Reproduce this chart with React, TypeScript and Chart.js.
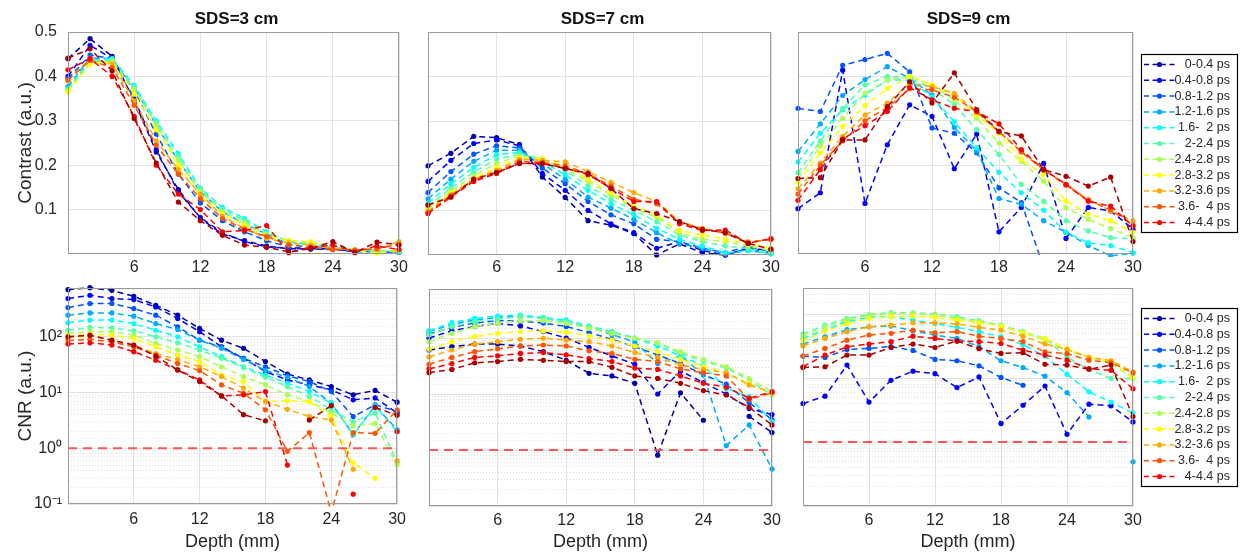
import React, { useEffect, useRef } from 'react';
import { Chart, registerables } from 'chart.js';

Chart.register(...registerables);

const N = null;

const DEPTH_MM = [0, 2, 4, 6, 8, 10, 12, 14, 16, 18, 20, 22, 24, 26, 28, 30];
const GATE_LABELS = ['0-0.4 ps', '0.4-0.8 ps', '0.8-1.2 ps', '1.2-1.6 ps', '1.6-  2 ps', '2-2.4 ps', '2.4-2.8 ps', '2.8-3.2 ps', '3.2-3.6 ps', '3.6-  4 ps', '4-4.4 ps', '4.4-4.8 ps'];
const GATE_COLORS = ['#0000aa', '#0000ff', '#0055ff', '#00aaff', '#00ffff', '#55ffaa', '#aaff55', '#ffff00', '#ffaa00', '#ff5500', '#ff0000', '#aa0000'];
const LEGEND_COUNT = 11;
const DEPTH_TICKS = [6, 12, 18, 24, 30];
const CONTRAST_TICKS = [0.1, 0.2, 0.3, 0.4, 0.5];
const PANEL_TITLES = ['SDS=3 cm', 'SDS=7 cm', 'SDS=9 cm'];
const THRESHOLD_DEPTHS = [0, 30];
const CNR_THRESHOLD = [1, 1];

// Contrast, SDS = 3 cm (rows: time gates, columns: DEPTH_MM)
const CONTRAST_SDS3: (number | null)[][] = [
  [0.44, 0.485, 0.445, 0.345, 0.23, 0.145, 0.08, 0.045, 0.03, 0.018, 0.012, 0.012, 0.012, 0.005, 0.008, 0.005],
  [0.40, 0.47, 0.44, 0.35, 0.235, 0.14, 0.082, 0.048, 0.028, 0.016, 0.013, 0.011, 0.01, 0.006, 0.005, 0.004],
  [0.395, 0.448, 0.44, 0.368, 0.27, 0.18, 0.115, 0.075, 0.05, 0.03, 0.016, 0.012, 0.012, 0.005, 0.006, 0.005],
  [0.377, 0.442, 0.44, 0.375, 0.29, 0.21, 0.14, 0.095, 0.068, 0.045, 0.022, 0.016, 0.015, 0.007, 0.006, 0.004],
  [0.372, 0.437, 0.44, 0.38, 0.30, 0.226, 0.148, 0.105, 0.08, 0.05, 0.028, 0.02, 0.018, 0.008, 0.007, 0.005],
  [0.37, 0.433, 0.437, 0.376, 0.296, 0.22, 0.145, 0.1, 0.075, 0.047, 0.03, 0.022, 0.02, 0.01, 0.008, 0.006],
  [0.368, 0.43, 0.434, 0.37, 0.29, 0.21, 0.14, 0.095, 0.07, 0.045, 0.03, 0.025, 0.02, 0.01, 0.005, 0.008],
  [0.365, 0.428, 0.43, 0.36, 0.28, 0.2, 0.13, 0.09, 0.065, 0.04, 0.03, 0.028, 0.016, 0.008, 0.002, 0.01],
  [0.39, 0.44, 0.428, 0.345, 0.255, 0.19, 0.135, 0.085, 0.058, 0.035, 0.025, 0.02, 0.012, 0.01, 0.01, 0.028],
  [0.392, 0.436, 0.42, 0.335, 0.245, 0.18, 0.125, 0.08, 0.055, 0.04, 0.02, 0.015, 0.01, 0.008, 0.012, 0.022],
  [0.415, 0.44, 0.40, 0.31, 0.2, 0.135, 0.1, 0.05, 0.053, 0.064, 0.003, 0.015, 0.02, 0.005, 0.018, 0.01],
  [0.441, 0.462, 0.412, 0.305, 0.205, 0.117, 0.075, 0.042, 0.02, 0.015, 0.005, 0.012, 0.028, 0.003, 0.027, 0.02],
];

// Contrast, SDS = 7 cm
const CONTRAST_SDS7: (number | null)[][] = [
  [0.20, 0.228, 0.266, 0.263, 0.248, 0.175, 0.129, 0.077, 0.067, 0.048, 0.0, 0.025, 0.005, 0.0, 0.015, 0.01],
  [0.165, 0.212, 0.25, 0.258, 0.245, 0.183, 0.145, 0.1, 0.07, 0.05, 0.015, 0.03, 0.01, 0.0, 0.015, 0.005],
  [0.14, 0.187, 0.226, 0.245, 0.24, 0.195, 0.16, 0.12, 0.09, 0.07, 0.035, 0.03, 0.015, 0.005, 0.02, 0.005],
  [0.126, 0.17, 0.21, 0.235, 0.235, 0.205, 0.17, 0.13, 0.105, 0.08, 0.05, 0.025, 0.015, 0.002, 0.01, 0.003],
  [0.116, 0.16, 0.196, 0.225, 0.23, 0.21, 0.18, 0.145, 0.115, 0.09, 0.06, 0.035, 0.02, 0.005, 0.01, 0.003],
  [0.11, 0.15, 0.186, 0.215, 0.226, 0.215, 0.19, 0.155, 0.125, 0.1, 0.075, 0.045, 0.03, 0.02, 0.015, 0.005],
  [0.105, 0.143, 0.178, 0.205, 0.222, 0.216, 0.195, 0.165, 0.135, 0.105, 0.085, 0.05, 0.035, 0.03, 0.02, 0.01],
  [0.1, 0.138, 0.172, 0.196, 0.218, 0.215, 0.2, 0.17, 0.14, 0.11, 0.09, 0.055, 0.045, 0.035, 0.025, 0.015],
  [0.098, 0.135, 0.17, 0.19, 0.215, 0.212, 0.209, 0.187, 0.163, 0.14, 0.12, 0.075, 0.06, 0.048, 0.03, 0.035],
  [0.095, 0.133, 0.168, 0.186, 0.21, 0.208, 0.2, 0.182, 0.155, 0.125, 0.115, 0.072, 0.058, 0.05, 0.028, 0.035],
  [0.093, 0.13, 0.165, 0.183, 0.206, 0.205, 0.195, 0.18, 0.15, 0.12, 0.12, 0.07, 0.055, 0.056, 0.026, 0.037],
  [0.112, 0.13, 0.17, 0.185, 0.205, 0.205, 0.194, 0.183, 0.149, 0.104, 0.093, 0.075, 0.057, 0.05, 0.026, 0.013],
];

// Contrast, SDS = 9 cm
const CONTRAST_SDS9: (number | null)[][] = [
  [N, N, N, N, N, N, N, N, N, N, N, N, N, N, N, N],
  [0.102, 0.138, 0.414, 0.114, 0.246, 0.336, 0.31, 0.192, 0.27, 0.05, 0.105, 0.204, 0.035, 0.105, 0.097, 0.056],
  [0.328, 0.321, 0.425, 0.438, 0.452, 0.41, 0.284, 0.272, 0.228, 0.149, 0.116, -0.03, N, N, N, N],
  [0.231, 0.293, 0.357, 0.393, 0.422, 0.396, 0.358, 0.285, 0.232, 0.125, 0.112, 0.075, 0.049, 0.019, -0.004, 0.002],
  [0.207, 0.272, 0.325, 0.358, 0.392, 0.392, 0.354, 0.298, 0.239, 0.184, 0.138, 0.099, 0.049, 0.025, 0.019, 0.003],
  [0.183, 0.254, 0.328, 0.381, 0.40, 0.396, 0.373, 0.336, 0.28, 0.224, 0.157, 0.119, 0.075, 0.052, 0.037, 0.034],
  [0.17, 0.243, 0.306, 0.362, 0.392, 0.40, 0.381, 0.347, 0.306, 0.25, 0.209, 0.164, 0.104, 0.078, 0.057, 0.037],
  [0.162, 0.228, 0.287, 0.334, 0.373, 0.40, 0.381, 0.358, 0.313, 0.272, 0.213, 0.179, 0.119, 0.09, 0.075, 0.049],
  [0.147, 0.205, 0.265, 0.313, 0.34, 0.384, 0.377, 0.362, 0.321, 0.276, 0.231, 0.19, 0.157, 0.123, 0.097, 0.075],
  [0.135, 0.2, 0.255, 0.3, 0.33, 0.372, 0.37, 0.353, 0.32, 0.275, 0.23, 0.19, 0.155, 0.12, 0.1, 0.065],
  [0.121, 0.19, 0.259, 0.289, 0.321, 0.375, 0.347, 0.328, 0.321, 0.293, 0.235, 0.19, 0.157, 0.119, 0.108, 0.063],
  [0.17, 0.172, 0.257, 0.257, 0.332, 0.388, 0.34, 0.408, 0.325, 0.276, 0.266, 0.19, 0.175, 0.153, 0.173, 0.028],
];

// CNR, SDS = 3 cm
const CNR_SDS3: (number | null)[][] = [
  [700, 760, 680, 532, 367, 244, 141, 87, 62, 36, 21.5, 16.8, 12.8, 9.1, 10.9, 6.7],
  [484, 555, 484, 464, 343, 212, 123, 66, 41, 23.7, 16.8, 13.7, 11.2, 7.4, 8, 4.3],
  [334, 394, 395, 320, 244, 151, 87, 65, 41, 29, 20, 15.7, 10.4, 3.7, 6.0, 4.6],
  [244, 268, 268, 234, 173, 135, 87, 62, 39, 25, 18.8, 12.8, 6.5, 1.75, 5.8, 2.15],
  [178, 199, 199, 173, 131, 100, 66, 44, 29, 20.6, 14.7, 10.4, 6.5, 1.75, 5.7, 2.0],
  [131, 147, 145, 128, 100, 78, 58, 41, 28, 18.8, 12.8, 8.5, 4.9, 3.0, 4.3, 0.55],
  [115, 123, 123, 107, 76, 58, 44, 29, 19.3, 13.7, 9.1, 6.9, 4.3, 2.5, 2.8, 0.5],
  [103, 112, 107, 93, 66, 47, 36, 20.6, 15.7, 6.9, 7.1, 6.9, 3.7, 0.55, 0.29, N],
  [97, 103, 87, 71, 50, 39, 29, 19.3, 12, 6.9, 5.0, 3.7, 3.2, 0.42, N, 0.6],
  [85, 90, 81, 66, 47, 33, 24.7, 13.7, 9.7, 4.9, 0.88, 1.9, 0.07, 1.9, 1.85, 4.9],
  [74, 78, 71, 54, 38, 25.4, 16.8, 8.7, 9.1, 10.4, 0.5, N, N, 0.15, N, 2.0],
  [100, 107, 87, 71, 45, 25.4, 15.7, 8.7, 4.0, 3.1, N, 3.2, 5.8, N, 5.4, 3.9],
];

// CNR, SDS = 7 cm
const CNR_SDS7: (number | null)[][] = [
  [61, 70, 78, 78, 72, 57, 40, 23.4, 21, 15.5, 0.81, 10.5, 3.4, N, 4.0, 2.05],
  [100, 135, 160, 183, 164, 130, 100, 68, 48, 34, 10, 25.7, 16, 10, 5.5, 4.3],
  [118, 155, 185, 205, 200, 185, 160, 125, 95, 70, 50, 35, 22, 15, 7, 3.5],
  [130, 175, 210, 235, 245, 225, 195, 155, 115, 85, 35, 48, 22, 1.2, 2.8, 0.46],
  [135, 188, 225, 247, 257, 234, 210, 164, 130, 100, 72, 48, 32, 12.6, 9, 3.2],
  [113, 160, 195, 215, 240, 225, 195, 160, 125, 100, 80, 53, 39, 29, 17.8, 9.6],
  [86, 121, 160, 183, 204, 204, 183, 149, 121, 100, 83, 57, 41.6, 31, 19, 11],
  [63, 86, 106, 121, 130, 133, 127, 109, 92, 72, 57, 41.6, 31, 23.4, 15.5, 10],
  [46, 61, 78, 86, 95, 99, 92, 86, 72, 55, 45, 33, 27.5, 24, 14.5, 10.7],
  [34, 45, 57, 64, 72, 75, 72, 59, 53, 41.6, 38, 28, 24, 21, 8, 10.5],
  [28, 35, 45, 48, 53, 55, 50, 43, 38, 29, 27.5, 21, 15.5, 13.2, 8.4, 11],
  [24, 27.5, 36, 38, 41.6, 40, 38, 38, 30, 21, 19, 15.5, 11.5, 9.6, 5.8, 2.8],
];

// CNR, SDS = 9 cm
const CNR_SDS9: (number | null)[][] = [
  [N, N, N, N, N, N, N, N, N, N, N, N, N, N, N, N],
  [4.0, 5.2, 15.9, 4.2, 9.2, 12.8, 11.7, 7.1, 10.4, 1.94, 3.75, 7.5, 1.32, 3.9, 3.67, 2.06],
  [22, 21, 28, 29, 31, 27, 19.5, 18.6, 15.5, 10.2, 7.7, N, N, N, N, N],
  [34, 44, 57, 63, 65, 55, 47, 41.5, 31, 18.6, 14.6, 10.7, 5.9, 2.46, N, 0.49],
  [41.5, 57, 76, 89, 91, 80, 71, 62, 53, 44, 33, 22, 11.5, 6.1, 4.2, 2.85],
  [49, 67, 85, 99, 105, 105, 100, 91, 79, 67, 53, 41.5, 21, 13.6, 9.8, 9.8],
  [45, 63, 80, 96, 102, 102, 96, 86, 76, 65, 51, 39, 27, 21, 17.3, 9.8],
  [38, 54, 71, 85, 91, 93, 89, 80, 73, 65, 51, 41.5, 29, 21, 18.6, 10.2],
  [31.6, 41.5, 53, 63, 67, 73, 73, 70, 62, 56, 45, 34, 28, 21, 18.6, 12.5],
  [22, 29, 39, 47, 50, 56, 51, 53, 45, 41.5, 37, 25.6, 24, 19, 17.3, 12],
  [15, 22.8, 30.7, 34, 37, 45, 41.5, 38, 37, 34.6, 27.3, 22.8, 19, 14, 13.2, 6.8],
  [14.6, 15, 22.8, 22.8, 30, 34, 30, 37.8, 28.7, 24.2, 24.8, 16.4, 15.9, 13.7, 15.9, 2.5],
];

const FONT = '"Liberation Sans", Arial, Helvetica, sans-serif';
const TEXT = '#262626';
const GRID = '#e2e2e2';
const GRID_MINOR = 'rgba(0,0,0,0.13)';
const FRAME = '#9a9a9a';

type Rect = { x: number; y: number; w: number; h: number };
type Plot = { l: number; t: number; r: number; b: number };
type Panel = {
  data: (number | null)[][];
  log: boolean;
  yMin: number;
  yMax: number;
  canvas: Rect;
  plot: Plot;
  yLabels: boolean;
  yLabelPad: number;
  yTitle?: string;
  xTitle?: string;
  title?: string;
  legend: boolean;
  xPad: number;
};

const PANELS: Panel[] = [
  { data: CONTRAST_SDS3, log: false, yMin: 0, yMax: 0.5, canvas: { x: 0, y: 0, w: 412, h: 280 }, plot: { l: 68, t: 32, r: 399, b: 254 }, yLabels: true, yLabelPad: 11, yTitle: 'Contrast (a.u.)', title: PANEL_TITLES[0], legend: false, xPad: 4 },
  { data: CONTRAST_SDS7, log: false, yMin: 0, yMax: 0.5, canvas: { x: 412, y: 0, w: 373, h: 280 }, plot: { l: 428, t: 32, r: 771, b: 255 }, yLabels: false, yLabelPad: 0, title: PANEL_TITLES[1], legend: false, xPad: 3 },
  { data: CONTRAST_SDS9, log: false, yMin: 0, yMax: 0.5, canvas: { x: 785, y: 0, w: 455, h: 280 }, plot: { l: 798, t: 32, r: 1133, b: 254 }, yLabels: false, yLabelPad: 0, title: PANEL_TITLES[2], legend: true, xPad: 4 },
  { data: CNR_SDS3, log: true, yMin: 0.1, yMax: 750, canvas: { x: 0, y: 268, w: 412, h: 288 }, plot: { l: 68, t: 288, r: 398, b: 504 }, yLabels: true, yLabelPad: 6, yTitle: 'CNR (a.u.)', xTitle: 'Depth (mm)', legend: false, xPad: 6 },
  { data: CNR_SDS7, log: true, yMin: 0.1, yMax: 750, canvas: { x: 412, y: 268, w: 378, h: 288 }, plot: { l: 429, t: 289, r: 772, b: 506 }, yLabels: false, yLabelPad: 0, xTitle: 'Depth (mm)', legend: false, xPad: 5 },
  { data: CNR_SDS9, log: true, yMin: 0.1, yMax: 255, canvas: { x: 790, y: 268, w: 450, h: 288 }, plot: { l: 803, t: 288, r: 1133, b: 506 }, yLabels: false, yLabelPad: 0, xTitle: 'Depth (mm)', legend: true, xPad: 5 },
];

const SUP: Record<string, string> = { '-': '\u207B', '0': '\u2070', '1': '\u00B9', '2': '\u00B2', '3': '\u00B3' };
const isDecade = (v: number) => {
  const l = Math.log10(v);
  return Math.abs(l - Math.round(l)) < 1e-9;
};
const decadeLabel = (v: number) => '10' + String(Math.round(Math.log10(v))).split('').map((c) => SUP[c] || c).join('');

const decorPlugin = {
  id: 'decor',
  afterDraw(chart: any, _args: any, opts: any) {
    const { ctx, chartArea: a } = chart;
    ctx.save();
    ctx.setLineDash([]);
    ctx.strokeStyle = FRAME;
    ctx.lineWidth = 1;
    ctx.strokeRect(a.left + 0.5, a.top + 0.5, a.right - a.left - 1, a.bottom - a.top - 1);
    if (opts.title) {
      ctx.fillStyle = '#111';
      ctx.font = `bold 17px ${FONT}`;
      ctx.textAlign = 'center';
      ctx.textBaseline = 'middle';
      ctx.fillText(opts.title, (a.left + a.right) / 2 + 3, a.top - 13);
    }
    if (opts.legend) {
      const lx = a.right + 8;
      const lw = 96;
      const lh = 178;
      const ly = Math.round((a.top + a.bottom) / 2 - lh / 2);
      ctx.fillStyle = '#fff';
      ctx.fillRect(lx, ly, lw, lh);
      ctx.strokeStyle = '#000';
      ctx.lineWidth = 1.2;
      ctx.strokeRect(lx + 0.5, ly + 0.5, lw, lh);
      const ds = chart.data.datasets;
      for (let i = 0; i < LEGEND_COUNT; i++) {
        const cy = ly + 10.5 + i * 15.8;
        const col = ds[i].borderColor;
        ctx.strokeStyle = col;
        ctx.lineWidth = 1.5;
        ctx.setLineDash([5, 3.5]);
        ctx.beginPath();
        ctx.moveTo(lx + 3, cy);
        ctx.lineTo(lx + 35, cy);
        ctx.stroke();
        ctx.setLineDash([]);
        ctx.fillStyle = col;
        ctx.beginPath();
        ctx.arc(lx + 18.5, cy, 2.6, 0, Math.PI * 2);
        ctx.fill();
        ctx.fillStyle = TEXT;
        ctx.font = `12.5px ${FONT}`;
        ctx.textAlign = 'right';
        ctx.textBaseline = 'middle';
        ctx.fillText(ds[i].label, lx + 89, cy);
      }
    }
    ctx.restore();
  },
};

function buildConfig(p: Panel): any {
  const yW = p.yLabels ? p.plot.l - p.canvas.x : 0;
  const xH = p.canvas.y + p.canvas.h - p.plot.b;
  const padding = {
    left: p.plot.l - p.canvas.x - yW,
    top: p.plot.t - p.canvas.y,
    right: p.canvas.x + p.canvas.w - p.plot.r,
    bottom: 0,
  };
  const n = p.data.length;
  const datasets: any[] = p.data.map((row, i) => ({
    label: GATE_LABELS[i],
    data: DEPTH_MM.map((d, j) => ({ x: d, y: row[j] })),
    borderColor: GATE_COLORS[i],
    backgroundColor: GATE_COLORS[i],
    pointBackgroundColor: GATE_COLORS[i],
    pointBorderColor: GATE_COLORS[i],
    borderWidth: 1.5,
    borderDash: [6, 4],
    pointRadius: 2.6,
    pointBorderWidth: 0,
    tension: 0,
    spanGaps: false,
    order: n - i + 1,
    clip: { left: 4, right: 4, top: 4, bottom: 3 },
  }));
  if (p.log) {
    datasets.push({
      label: 'CNR = 1',
      data: THRESHOLD_DEPTHS.map((d, j) => ({ x: d, y: CNR_THRESHOLD[j] })),
      borderColor: 'rgba(255,70,70,0.9)',
      borderWidth: 2,
      borderDash: [9, 6],
      pointRadius: 0,
      order: 0,
    });
  }
  const tickFont = { family: FONT, size: 16 };
  const scales: any = {
    x: {
      type: 'linear',
      min: 0,
      max: 30,
      afterBuildTicks: (s: any) => {
        s.ticks = DEPTH_TICKS.map((v) => ({ value: v }));
      },
      afterFit: (s: any) => {
        s.height = xH;
      },
      grid: { color: GRID, drawTicks: false, lineWidth: 1 },
      border: { display: false },
      ticks: { font: tickFont, color: TEXT, padding: p.xPad, maxRotation: 0, autoSkip: false },
      title: p.xTitle
        ? { display: true, text: p.xTitle, color: TEXT, font: { family: FONT, size: 18 }, padding: { top: 0, bottom: 3 } }
        : { display: false },
    },
  };
  const yTitle = p.yTitle
    ? { display: true, text: p.yTitle, color: TEXT, font: { family: FONT, size: 19 }, padding: { top: 14, bottom: 0 } }
    : { display: false };
  if (!p.log) {
    scales.y = {
      type: 'linear',
      min: p.yMin,
      max: p.yMax,
      afterBuildTicks: (s: any) => {
        s.ticks = CONTRAST_TICKS.map((v) => ({ value: v }));
      },
      afterFit: (s: any) => {
        s.width = yW;
      },
      grid: { color: GRID, drawTicks: false },
      border: { display: false },
      ticks: { display: p.yLabels, font: tickFont, color: TEXT, padding: p.yLabelPad, autoSkip: false },
      title: yTitle,
    };
  } else {
    scales.y = {
      type: 'logarithmic',
      min: p.yMin,
      max: p.yMax,
      afterFit: (s: any) => {
        s.width = yW;
      },
      grid: { color: (c: any) => (c.tick && isDecade(c.tick.value) ? GRID : 'rgba(0,0,0,0)'), drawTicks: false },
      border: { display: false },
      ticks: {
        display: p.yLabels,
        font: tickFont,
        color: TEXT,
        padding: p.yLabelPad,
        autoSkip: false,
        callback: (v: any) => (isDecade(Number(v)) ? decadeLabel(Number(v)) : ''),
      },
      title: yTitle,
    };
    scales.yMinor = {
      type: 'logarithmic',
      axis: 'y',
      position: 'left',
      min: p.yMin,
      max: p.yMax,
      afterFit: (s: any) => {
        s.width = 0;
      },
      grid: { color: (c: any) => (c.tick && !isDecade(c.tick.value) ? GRID_MINOR : 'rgba(0,0,0,0)'), drawTicks: false },
      border: { display: false, dash: [1, 2] },
      ticks: { display: false, autoSkip: false },
    };
  }
  return {
    type: 'line',
    data: { datasets },
    plugins: [decorPlugin],
    options: {
      responsive: false,
      animation: false,
      events: [],
      layout: { padding },
      scales,
      plugins: {
        legend: { display: false },
        tooltip: { enabled: false },
        title: { display: false },
        decor: { title: p.title || '', legend: p.legend },
      },
    },
  };
}

function PanelChart({ panel }: { panel: Panel }) {
  const ref = useRef<HTMLCanvasElement | null>(null);
  useEffect(() => {
    if (!ref.current) return;
    const chart = new Chart(ref.current, buildConfig(panel));
    return () => chart.destroy();
  }, [panel]);
  return (
    <canvas
      ref={ref}
      width={panel.canvas.w}
      height={panel.canvas.h}
      style={{ position: 'absolute', left: panel.canvas.x, top: panel.canvas.y, width: panel.canvas.w, height: panel.canvas.h }}
    />
  );
}

export default function App() {
  return (
    <div style={{ position: 'absolute', left: 0, top: 0, width: 1240, height: 556, background: '#fff', overflow: 'hidden' }}>
      {PANELS.map((p, i) => (
        <PanelChart key={i} panel={p} />
      ))}
    </div>
  );
}
